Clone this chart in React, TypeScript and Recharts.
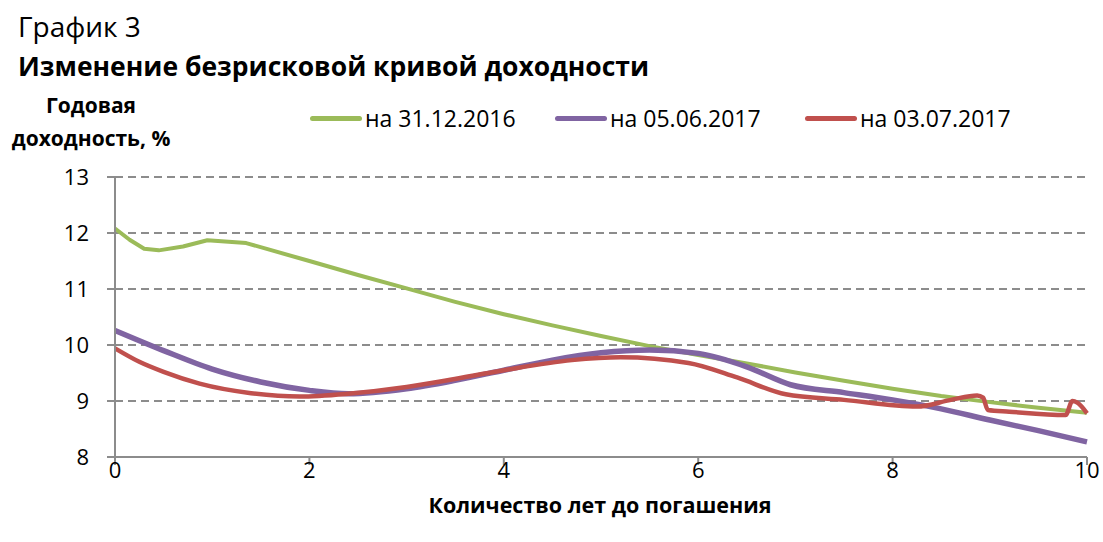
import React from 'react'
import { CartesianGrid, Line, LineChart, XAxis, YAxis } from 'recharts'

// годы до погашения / доходность, %
const dec2016X = [0, 0.15, 0.3, 0.45, 0.7, 0.95, 1.35, 2, 2.5, 3, 3.5, 4, 4.5, 5, 5.5, 6, 6.5, 7, 7.5, 8, 8.5, 9, 9.5, 10]
const dec2016Y = [12.08, 11.88, 11.72, 11.69, 11.76, 11.87, 11.82, 11.5, 11.25, 11.01, 10.77, 10.55, 10.35, 10.16, 9.98, 9.82, 9.67, 9.51, 9.36, 9.22, 9.09, 8.98, 8.88, 8.79]

const jun2017X = [0, 0.5, 1, 1.5, 2, 2.4, 3, 3.5, 4, 4.5, 5, 5.5, 6, 6.5, 6.95, 7.5, 8, 8.5, 9, 9.5, 10]
const jun2017Y = [10.26, 9.9, 9.57, 9.34, 9.19, 9.13, 9.22, 9.37, 9.55, 9.73, 9.86, 9.91, 9.85, 9.61, 9.29, 9.15, 9.02, 8.86, 8.66, 8.47, 8.27]

const jul2017X = [0, 0.25, 0.5, 0.87, 1.4, 1.9, 2.4, 3, 3.45, 4, 4.7, 5.2, 5.9, 6.4, 6.9, 7.5, 8.25, 8.6, 8.87, 8.93, 8.98, 9.2, 9.78, 9.85, 9.9, 10]
const jul2017Y = [9.94, 9.7, 9.52, 9.31, 9.14, 9.08, 9.13, 9.25, 9.38, 9.55, 9.73, 9.78, 9.68, 9.42, 9.12, 9.02, 8.9, 9.02, 9.1, 9.06, 8.84, 8.81, 8.75, 9.0, 8.97, 8.78]

const xTicks = [0, 2, 4, 6, 8, 10]
const yTicks = [8, 9, 10, 11, 12, 13]

const toPoints = (xs: number[], ys: number[]) => xs.map((x, i) => ({ x, y: ys[i] }))

const series = [
  { name: 'на 31.12.2016', color: '#9bbb59', width: 4, curve: 'linear', data: toPoints(dec2016X, dec2016Y), legendX: 310 },
  { name: 'на 05.06.2017', color: '#8064a2', width: 5.5, curve: 'monotone', data: toPoints(jun2017X, jun2017Y), legendX: 555 },
  { name: 'на 03.07.2017', color: '#c0504d', width: 4.5, curve: 'monotone', data: toPoints(jul2017X, jul2017Y), legendX: 805 },
]

const font = '"Open Sans", "Noto Sans", sans-serif'
const axisGray = '#8c8c8c'

export default function App() {
  return (
    <div style={{ position: 'absolute', left: 0, top: 0, width: 1103, height: 542, background: '#fff', fontFamily: font, color: '#000' }}>
      <div style={{ position: 'absolute', left: 18, top: 8, fontSize: 28, lineHeight: '36px' }}>График 3</div>
      <div style={{ position: 'absolute', left: 18, top: 48, fontSize: 26.5, lineHeight: '36px', fontWeight: 700 }}>Изменение безрисковой кривой доходности</div>
      <div style={{ position: 'absolute', left: -4, top: 89, width: 190, textAlign: 'center', fontSize: 21, fontWeight: 700, lineHeight: '33px' }}>
        Годовая<br />доходность, %
      </div>
      {series.map(s => (
        <div key={s.name} style={{ position: 'absolute', left: s.legendX, top: 102, height: 32, display: 'flex', alignItems: 'center', fontSize: 23 }}>
          <div style={{ width: 52, height: 5, background: s.color, borderRadius: 3, marginRight: 3 }} />
          <span>{s.name}</span>
        </div>
      ))}
      <div style={{ position: 'absolute', left: 0, top: 490, width: 1200, textAlign: 'center', fontSize: 21.5, fontWeight: 700 }}>
        Количество лет до погашения
      </div>
      <div style={{ position: 'absolute', left: 0, top: 0 }}>
        <LineChart width={1103} height={542} margin={{ top: 177, right: 16, bottom: 0, left: 0 }}>
          <CartesianGrid vertical={false} stroke={axisGray} strokeWidth={2} strokeDasharray="8 5" />
          <XAxis
            type="number"
            dataKey="x"
            domain={[0, 10]}
            ticks={xTicks}
            height={85}
            stroke={axisGray}
            strokeWidth={2}
            tickSize={8}
            tickMargin={-3}
            tick={{ fill: '#000', fontSize: 22, fontFamily: font }}
            allowDuplicatedCategory={false}
          />
          <YAxis
            type="number"
            dataKey="y"
            domain={[8, 13]}
            ticks={yTicks}
            width={115}
            stroke={axisGray}
            strokeWidth={2}
            tickSize={8}
            tickMargin={18}
            tick={{ fill: '#000', fontSize: 22, fontFamily: font }}
          />
          {series.map(s => (
            <Line
              key={s.name}
              data={s.data}
              dataKey="y"
              name={s.name}
              type={s.curve as 'linear' | 'monotone'}
              stroke={s.color}
              strokeWidth={s.width}
              strokeLinejoin="round"
              dot={false}
              activeDot={false}
              isAnimationActive={false}
            />
          ))}
        </LineChart>
      </div>
    </div>
  )
}
